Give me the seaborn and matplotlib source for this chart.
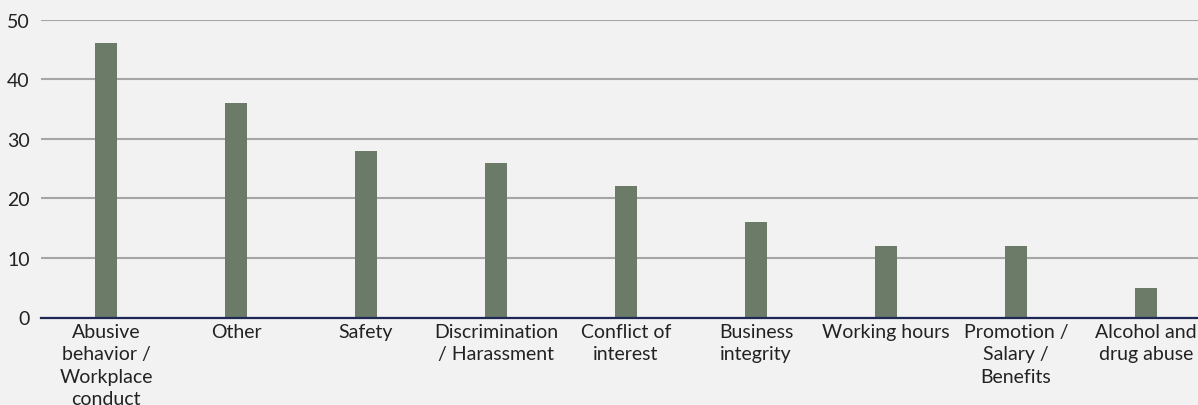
import matplotlib
matplotlib.use("Agg")
import matplotlib.pyplot as plt
import seaborn as sns
import pandas as pd

categories = [
    "Abusive\nbehavior /\nWorkplace\nconduct",
    "Other",
    "Safety",
    "Discrimination\n/ Harassment",
    "Conflict of\ninterest",
    "Business\nintegrity",
    "Working hours",
    "Promotion /\nSalary /\nBenefits",
    "Alcohol and\ndrug abuse",
]
counts = [46, 36, 28, 26, 22, 16, 12, 12, 5]
y_ticks = [0, 10, 20, 30, 40, 50]

bg = "#f2f2f2"
bar_color = "#6b7b67"
grid_color = "#a6a6a6"
axis_color = "#1f2755"

sns.set_theme(style="white")
plt.rcParams["font.family"] = ["Lato", "DejaVu Sans"]

df = pd.DataFrame({"category": categories, "count": counts})

fig = plt.figure(figsize=(11.98, 4.06), dpi=100, facecolor=bg)
ax = fig.add_axes([41 / 1198, (406 - 318.5) / 406, (1198 - 41) / 1198, 298 / 406])
ax.set_facecolor(bg)

sns.barplot(data=df, x="category", y="count", color=bar_color, width=0.17,
            saturation=1, linewidth=0, edgecolor="none", ax=ax, zorder=3)

ax.set_ylim(0, 50)
ax.set_xlim(-0.5, -0.5 + (1198 - 41) / 130)
ax.set_yticks(y_ticks)
ax.yaxis.grid(True, color=grid_color, linewidth=1.5, zorder=0)
ax.xaxis.grid(False)
ax.set_axisbelow(True)

for side in ["top", "right", "left"]:
    ax.spines[side].set_visible(False)
ax.spines["bottom"].set_color(axis_color)
ax.spines["bottom"].set_linewidth(1.6)
ax.spines["bottom"].set_zorder(4)

ax.set_xlabel("")
ax.set_ylabel("")
ax.tick_params(axis="both", length=0, labelsize=14, colors="#222222")
ax.tick_params(axis="y", pad=8)
ax.tick_params(axis="x", pad=4)
for lbl in ax.get_xticklabels():
    lbl.set_linespacing(1.38)
    lbl.set_horizontalalignment("center")

fig.savefig("out.png", dpi=100, facecolor=bg)
